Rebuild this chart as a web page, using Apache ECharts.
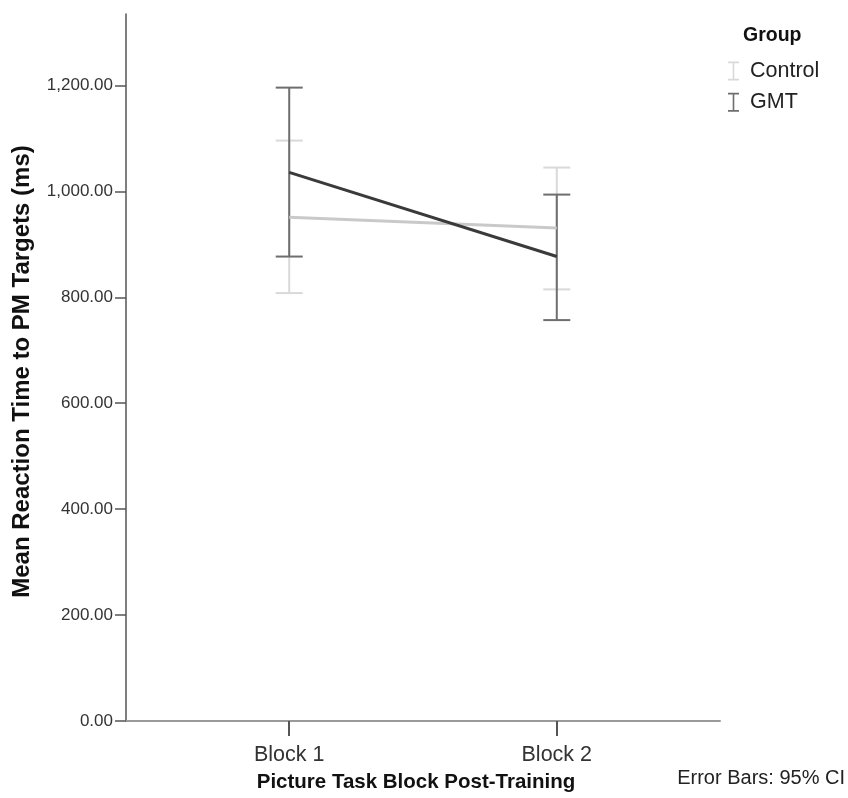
<!DOCTYPE html>
<html>
<head>
<meta charset="utf-8">
<script src="https://cdn.jsdelivr.net/npm/echarts@6/dist/echarts.min.js"></script>
<style>html,body{margin:0;padding:0;background:#fff}#c{width:848px;height:798px}</style>
</head>
<body>
<div id="c"></div>
<script>
var categories = ['Block 1', 'Block 2'];
var groups = ['Control', 'GMT'];
var controlMean = [951, 931];
var controlLow = [808, 815];
var controlHigh = [1096, 1045];
var gmtMean = [1036, 877];
var gmtLow = [877, 757];
var gmtHigh = [1196, 994];
var yTicks = [0, 200, 400, 600, 800, 1000, 1200];

var FONT = '"Liberation Sans", Arial, sans-serif';
var colControlLine = '#c9c9c9', colControlBar = '#d9d9d9';
var colGmtLine = '#3a3a3a', colGmtBar = '#6e6e6e';

function xy(arr) { return arr.map(function (v, i) { return [i + 1, v]; }); }
function bars(low, high) { return low.map(function (v, i) { return [i + 1, v, high[i]]; }); }

function errRender(color) {
  return function (params, api) {
    var x = api.value(0);
    var lo = api.coord([x, api.value(1)]);
    var hi = api.coord([x, api.value(2)]);
    var hw = 13.5;
    var st = { stroke: color, lineWidth: 2 };
    return {
      type: 'group',
      children: [
        { type: 'line', shape: { x1: lo[0], y1: lo[1], x2: hi[0], y2: hi[1] }, style: st },
        { type: 'line', shape: { x1: lo[0] - hw, y1: lo[1], x2: lo[0] + hw, y2: lo[1] }, style: st },
        { type: 'line', shape: { x1: hi[0] - hw, y1: hi[1], x2: hi[0] + hw, y2: hi[1] }, style: st }
      ]
    };
  };
}

var chart = echarts.init(document.getElementById('c'), null, { renderer: 'canvas' });
chart.setOption({
  animation: false,
  backgroundColor: '#fff',
  textStyle: { fontFamily: FONT },
  grid: { left: 126, right: 128, top: 14, bottom: 75, containLabel: false },
  xAxis: {
    type: 'value', min: 0.39, max: 2.61,
    splitLine: { show: false },
    axisLine: { show: true, lineStyle: { color: '#9a9a9a', width: 2 } },
    axisTick: { show: true, customValues: [1, 2], length: 15, inside: false, lineStyle: { color: '#555', width: 2 } },
    axisLabel: { customValues: [1, 2], margin: 23, fontSize: 21.5, color: '#333', fontFamily: FONT,
      formatter: function (v) { return categories[Math.round(v) - 1] || ''; } },
    name: 'Picture Task Block Post-Training', nameLocation: 'middle', nameGap: 51,
    nameTextStyle: { fontSize: 20.5, fontWeight: 'bold', color: '#111', fontFamily: FONT, padding: [0, 14, 0, 0] }
  },
  yAxis: {
    type: 'value', min: 0, max: 1335,
    splitLine: { show: false },
    axisLine: { show: true, lineStyle: { color: '#555', width: 1.5 } },
    axisTick: { show: true, customValues: yTicks, length: 11, lineStyle: { color: '#555', width: 1.5 } },
    axisLabel: { customValues: yTicks, margin: 13, fontSize: 17, color: '#333', fontFamily: FONT,
      formatter: function (v) { return v.toLocaleString('en-US', { minimumFractionDigits: 2, maximumFractionDigits: 2 }); } },
    name: 'Mean Reaction Time to PM Targets (ms)', nameLocation: 'middle', nameGap: 92, nameRotate: 90,
    nameTextStyle: { fontSize: 24, fontWeight: 'bold', color: '#111', fontFamily: FONT, padding: [0, 8, 0, 0] }
  },
  legend: {
    show: true, orient: 'vertical', left: 728, top: 60, itemGap: 9.3,
    itemWidth: 11, itemHeight: 19, padding: 0, symbolKeepAspect: false,
    icon: 'path://M0,0H11V1.8H6.3V17.2H11V19H0V17.2H4.7V1.8H0Z',
    textStyle: { fontSize: 21.5, color: '#222', fontFamily: FONT, padding: [0, 0, 0, 6] },
    data: [
      { name: 'Control', itemStyle: { color: colControlBar } },
      { name: 'GMT', itemStyle: { color: colGmtBar } }
    ]
  },
  graphic: [
    { type: 'text', left: 743, top: 26, style: { text: 'Group', font: 'bold 19.5px ' + FONT, fill: '#111' } },
    { type: 'text', right: 3, top: 768, style: { text: 'Error Bars: 95% CI', font: '20px ' + FONT, fill: '#222' } }
  ],
  series: [
    { name: 'Control', type: 'custom', renderItem: errRender(colControlBar), data: bars(controlLow, controlHigh), z: 1,
      encode: { x: 0, y: [1, 2] } },
    { name: 'GMT', type: 'custom', renderItem: errRender(colGmtBar), data: bars(gmtLow, gmtHigh), z: 2,
      encode: { x: 0, y: [1, 2] } },
    { name: 'Control', type: 'line', data: xy(controlMean), showSymbol: false, z: 3,
      lineStyle: { color: colControlLine, width: 3 }, itemStyle: { color: colControlLine } },
    { name: 'GMT', type: 'line', data: xy(gmtMean), showSymbol: false, z: 4,
      lineStyle: { color: colGmtLine, width: 3 }, itemStyle: { color: colGmtLine } }
  ]
});
</script>
</body>
</html>
